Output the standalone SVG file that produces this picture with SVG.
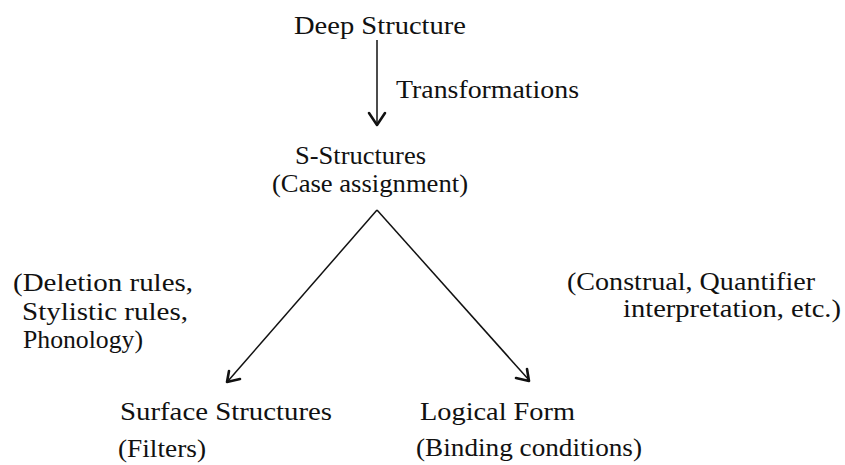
<svg xmlns="http://www.w3.org/2000/svg" width="845" height="465" viewBox="0 0 845 465">
<defs>
<style>
text{font-family:"Liberation Serif","Times New Roman",serif;font-size:25px;fill:#111}
.ln{stroke:#111;stroke-width:1.5;fill:none}
.ah{stroke:#111;stroke-width:2.6;fill:none;stroke-linecap:round;stroke-linejoin:round}
</style>
</defs>
<rect width="845" height="465" fill="#fff"/>
<g id="connectors">
<line class="ln" x1="377" y1="40" x2="377" y2="124"/>
<polyline class="ah" points="369,113 377,125 385,113"/>
<line class="ln" x1="377" y1="210" x2="228" y2="381"/>
<polyline class="ah" points="229,371 227,382 240,379"/>
<line class="ln" x1="377" y1="210" x2="529" y2="380"/>
<polyline class="ah" points="516,378 529,381 527,369"/>
</g>
<g id="deep-structure"><text x="294" y="34" textLength="172" lengthAdjust="spacingAndGlyphs">Deep Structure</text></g>
<g id="transformations-label"><text x="396" y="98" textLength="183" lengthAdjust="spacingAndGlyphs">Transformations</text></g>
<g id="s-structures">
<text x="295" y="164" textLength="131" lengthAdjust="spacingAndGlyphs">S-Structures</text>
<text x="272" y="192" textLength="196" lengthAdjust="spacingAndGlyphs">(Case assignment)</text>
</g>
<g id="left-label">
<text x="13" y="291" textLength="180" lengthAdjust="spacingAndGlyphs">(Deletion rules,</text>
<text x="22" y="320" textLength="166" lengthAdjust="spacingAndGlyphs">Stylistic rules,</text>
<text x="23" y="348" textLength="120" lengthAdjust="spacingAndGlyphs">Phonology)</text>
</g>
<g id="right-label">
<text x="567" y="290" textLength="248" lengthAdjust="spacingAndGlyphs">(Construal, Quantifier</text>
<text x="623" y="317" textLength="218" lengthAdjust="spacingAndGlyphs">interpretation, etc.)</text>
</g>
<g id="surface-structures">
<text x="120" y="420" textLength="212" lengthAdjust="spacingAndGlyphs">Surface Structures</text>
<text x="118" y="457" textLength="88" lengthAdjust="spacingAndGlyphs">(Filters)</text>
</g>
<g id="logical-form">
<text x="420" y="420" textLength="155" lengthAdjust="spacingAndGlyphs">Logical Form</text>
<text x="416" y="456" textLength="226" lengthAdjust="spacingAndGlyphs">(Binding conditions)</text>
</g>
</svg>
